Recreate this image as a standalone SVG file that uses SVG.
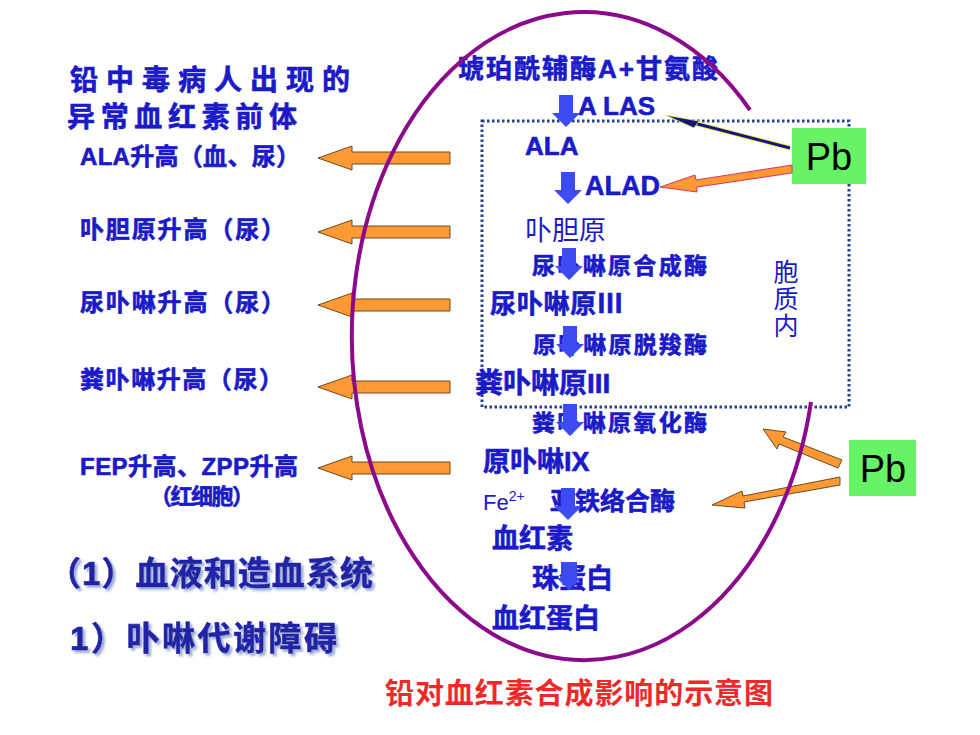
<svg xmlns="http://www.w3.org/2000/svg" xmlns:xlink="http://www.w3.org/1999/xlink" width="980" height="735" viewBox="0 0 980 735">
<style>
  .b { font-family: "Liberation Sans", "Noto Sans CJK SC", sans-serif; fill: #1A1AC8; stroke: #1A1AC8; stroke-width: 0.6; font-weight: 700; }
  .n { font-family: "Liberation Sans", "Noto Sans CJK SC", sans-serif; fill: #1A1AC8; font-weight: 400; }
  .cjk { font-family: "Noto Sans CJK SC", sans-serif; }
  .big { font-family: "Liberation Sans", "Noto Sans CJK SC", sans-serif; fill: #2424A6; stroke: #2424A6; stroke-width: 0.6; font-weight: 700; }
  .pb { font-family: "Liberation Sans", sans-serif; fill: #000; font-size: 38px; text-anchor: middle; }
  .cap { font-family: "Liberation Sans", "Noto Sans CJK SC", sans-serif; fill: #F02828; font-weight: 700; }
  .oarr { fill: #FF9933; stroke: #6B4A1E; stroke-width: 1; }
  .barr { fill: #3D4CF2; }
</style>
<defs>
  <path id="larrow" d="M0,0 L34,-12 L34,-6 L132,-6 L132,6 L34,6 L34,12 Z"/>
  <path id="darrow" d="M-7,0 L7,0 L7,18 L14,18 L0,32 L-14,18 L-7,18 Z"/>
  <filter id="shadow" x="-5%" y="-20%" width="110%" height="150%">
    <feDropShadow dx="2.5" dy="2.5" stdDeviation="1.2" flood-color="#8EA0D0" flood-opacity="0.9"/>
  </filter>
</defs>
<rect width="980" height="735" fill="#FFFFFF"/>

<g id="left-title">
  <text class="b" x="70" y="90" font-size="28" textLength="280">铅中毒病人出现的</text>
  <text class="b" x="67" y="127" font-size="28" textLength="230">异常血红素前体</text>
</g>
<g id="left-labels">
  <text id="lbl-ala" class="b" x="80" y="165" font-size="24" textLength="220">ALA升高（血、尿）</text>
  <text id="lbl-pbg" class="b" x="80" y="238" font-size="24" textLength="205">卟胆原升高（尿）</text>
  <text id="lbl-uro" class="b" x="80" y="311" font-size="24" textLength="205">尿卟啉升高（尿）</text>
  <text id="lbl-copro" class="b" x="80" y="388" font-size="24" textLength="203">粪卟啉升高（尿）</text>
  <text id="lbl-fep" class="b" x="80" y="475" font-size="24" textLength="218">FEP升高、ZPP升高</text>
  <text id="lbl-rbc" class="b" x="150" y="504" font-size="22" textLength="104">（红细胞）</text>
</g>
<g id="section-headings" filter="url(#shadow)">
  <text class="big" x="48" y="585" font-size="33" textLength="325">（1）血液和造血系统</text>
  <text class="big" x="70" y="650" font-size="33" textLength="267">1）卟啉代谢障碍</text>
</g>

<g id="cytoplasm-box">
  <rect x="482" y="121" width="367" height="286" fill="none" stroke="#22418C" stroke-width="3" stroke-dasharray="2.5 2.5"/>
  <text class="n" x="786" y="281" font-size="25" text-anchor="middle" font-weight="500">胞</text>
  <text class="n" x="786" y="308" font-size="25" text-anchor="middle" font-weight="500">质</text>
  <text class="n" x="786" y="335" font-size="25" text-anchor="middle" font-weight="500">内</text>
</g>

<g id="pathway">
  <text id="succinyl" class="b" x="458" y="78" font-size="26" textLength="260">琥珀酰辅酶A+甘氨酸</text>
  <text id="alas" class="b" x="578" y="115" font-size="26">A LAS</text>
  <text id="ala" class="b" x="525" y="155" font-size="26">ALA</text>
  <text id="alad" class="b" x="585" y="195" font-size="27">ALAD</text>
  <text id="pbg" class="n" x="525" y="240" font-size="27">卟胆原</text>
  <text id="e-uros" class="b" x="532" y="274" font-size="23" textLength="175">尿卟啉原合成酶</text>
  <text id="urogen" class="b" x="490" y="313" font-size="26" textLength="133">尿卟啉原<tspan class="cjk">Ⅲ</tspan></text>
  <text id="e-urod" class="b" x="533" y="353" font-size="23" textLength="174">原卟啉原脱羧酶</text>
  <text id="coprogen" class="b" x="475" y="393" font-size="28">粪卟啉原III</text>
  <text id="e-cpox" class="b" x="532" y="431" font-size="23" textLength="175">粪卟啉原氧化酶</text>
  <text id="protoix" class="b" x="483" y="471" font-size="27">原卟啉IX</text>
  <text id="fe" class="n" x="483" y="510" font-size="22">Fe<tspan font-size="14" dy="-9">2+</tspan></text>
  <text id="e-fech" class="b" x="550" y="510" font-size="25" textLength="125">亚铁络合酶</text>
  <text id="heme" class="b" x="492" y="548" font-size="27">血红素</text>
  <text id="globin" class="b" x="532" y="588" font-size="27">珠蛋白</text>
  <text id="hb" class="b" x="492" y="628" font-size="27">血红蛋白</text>
</g>

<g id="pb-1">
  <rect x="792" y="128" width="74" height="56" fill="#66F466"/>
  <text class="pb" x="829" y="170">Pb</text>
</g>
<g id="pb-2">
  <rect x="849" y="440" width="67" height="56" fill="#66F466"/>
  <text class="pb" x="883" y="482">Pb</text>
</g>

<g id="connectors">
  <use href="#darrow" class="barr" x="566" y="95"/>
  <use href="#darrow" class="barr" x="568" y="172"/>
  <use href="#darrow" class="barr" x="569" y="248"/>
  <use href="#darrow" class="barr" x="570" y="326"/>
  <use href="#darrow" class="barr" x="570" y="404"/>
  <use href="#darrow" class="barr" x="568" y="488"/>
  <path class="barr" d="M561,562 L577,562 L577,578 L581,578 L569,590 L557,578 L561,578 Z"/>
  <use href="#larrow" class="oarr" x="318" y="158"/>
  <use href="#larrow" class="oarr" x="318" y="232"/>
  <use href="#larrow" class="oarr" x="318" y="305"/>
  <use href="#larrow" class="oarr" x="318" y="387"/>
  <use href="#larrow" class="oarr" x="318" y="468"/>
  <line x1="790" y1="148" x2="690" y2="122" stroke="#F2EE60" stroke-width="5"/>
  <line x1="790" y1="148" x2="690" y2="122" stroke="#151580" stroke-width="3"/>
  <path d="M665,115 L699,121 L694,128 Z" fill="#151580" stroke="#F2EE60" stroke-width="0.8"/>
  <path d="M660,187 L695,175 L696,180 L792,165 L792,173 L697,187 L697,192 Z" fill="#FF9933" stroke="#D8336A" stroke-width="1"/>
  <path class="oarr" d="M763,429 L786,432 L783,437 L842,460 L838,468 L779,444 L777,449 Z"/>
  <path class="oarr" d="M712,505 L742,491 L743,496 L840,477 L840,485 L744,502 L745,508 Z"/>
</g>

<g id="cell-outline">
  <path d="M750,110 A232 324 0 1 0 811 402" fill="none" stroke="#8B0A8B" stroke-width="4"/>
</g>

<g id="caption">
  <text class="cap" x="385" y="704" font-size="29" textLength="388">铅对血红素合成影响的示意图</text>
</g>
</svg>
